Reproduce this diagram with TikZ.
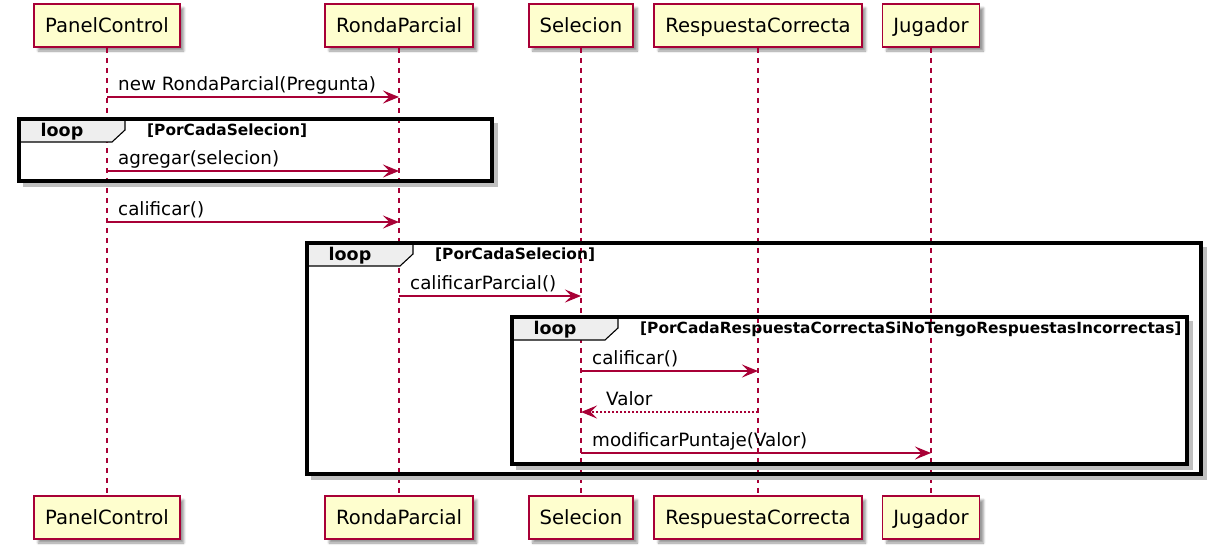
\documentclass[tikz,border=0pt]{standalone}
\usepackage{fontspec}
\setmainfont{DejaVu Sans}
\usetikzlibrary{arrows.meta,calc,shadows.blur}
\definecolor{umlred}{HTML}{A80036}
\definecolor{umlfill}{HTML}{FEFECE}
\definecolor{tabfill}{HTML}{EEEEEE}
\tikzset{
  partbox/.style={draw=umlred, fill=umlfill, line width=1.8pt, minimum height=43pt,
    inner xsep=11pt, text height=14.6pt, text depth=1pt,
    font=\fontsize{19.6}{23}\selectfont,
    blur shadow={shadow xshift=4pt, shadow yshift=-4pt, shadow blur steps=6, shadow opacity=40}},
  lifeln/.style={umlred, line width=1.2pt, dash pattern=on 5pt off 5pt},
  msgln/.style={-{Stealth[length=16pt, width=13pt, inset=6.5pt]}, umlred, line width=1.5pt},
  retln/.style={msgln, dash pattern=on 2pt off 2pt},
  msglbl/.style={anchor=base west, inner sep=0pt, font=\fontsize{18.3}{21}\selectfont},
  framebox/.style={line width=3.2pt},
  frameshadow/.style={line width=4.5pt, black!25},
  tabbox/.style={fill=tabfill, draw=black, line width=1.1pt},
  looplbl/.style={anchor=base, inner sep=0pt, font=\fontsize{17.5}{20}\selectfont\bfseries},
  condlbl/.style={anchor=base west, inner sep=0pt, font=\fontsize{15.4}{18}\selectfont\bfseries},
}
% loop frame: name, left, top, right, bottom, condition
\newcommand{\loopframe}[6]{%
  \draw[frameshadow] (#2+4,#5+3.5) -- (#4+3.5,#5+3.5) -- (#4+3.5,#3+4);
  \filldraw[tabbox] (#2,#3) -- ++(106,0) -- ++(0,11) -- ++(-13,12) -- (#2,#3+23) -- cycle;
  \draw[framebox] (#2,#3) rectangle (#4,#5);
  \node[looplbl] (#1-kw) at (#2+43,#3+17) {loop};
  \node[condlbl] (#1-cond) at (#2+128,#3+16) {[#6]};
}
% synchronous call: name, from, to, y, label
\newcommand{\callmsg}[5]{%
  \draw[msgln] (#2 |- 0,#4) -- (#3 |- 0,#4);
  \node[msglbl] (#1) at ($(#2 |- 0,#4)+(11,-7)$) {#5};
}
% reply: name, from, to, y, label
\newcommand{\retmsg}[5]{%
  \draw[retln] (#2 |- 0,#4) -- (#3 |- 0,#4);
  \node[msglbl] (#1) at ($(#3 |- 0,#4)+(25,-7)$) {#5};
}

\begin{document}
\begin{tikzpicture}[x=1pt, y=-1pt]
  \useasboundingbox (0,0) rectangle (1215,552);
  % participants, top and bottom, with lifelines
  \foreach \nm/\x/\lab in {pc/107/PanelControl, rp/399/RondaParcial, sel/581/Selecion,
      rc/758/RespuestaCorrecta, jug/931/Jugador} {
    \node[partbox] (\nm) at (\x,25.5) {\lab};
    \node[partbox] (\nm-b) at (\x,517.5) {\lab};
    \draw[lifeln] (\nm) -- (\nm-b);
  }
  % loop frames
  \loopframe{lp1}{19}{119}{492}{181}{PorCadaSelecion}
  \loopframe{lp2}{307}{243}{1201}{474}{PorCadaSelecion}
  \loopframe{lp3}{512}{317}{1187}{464}{PorCadaRespuestaCorrectaSiNoTengoRespuestasIncorrectas}
  % messages
  \callmsg{m1}{pc}{rp}{97}{new RondaParcial(Pregunta)}
  \callmsg{m2}{pc}{rp}{171}{agregar(selecion)}
  \callmsg{m3}{pc}{rp}{222}{calificar()}
  \callmsg{m4}{rp}{sel}{296}{calificarParcial()}
  \callmsg{m5}{sel}{rc}{371}{calificar()}
  \retmsg{m6}{rc}{sel}{412}{Valor}
  \callmsg{m7}{sel}{jug}{453}{modificarPuntaje(Valor)}
\end{tikzpicture}
\end{document}
